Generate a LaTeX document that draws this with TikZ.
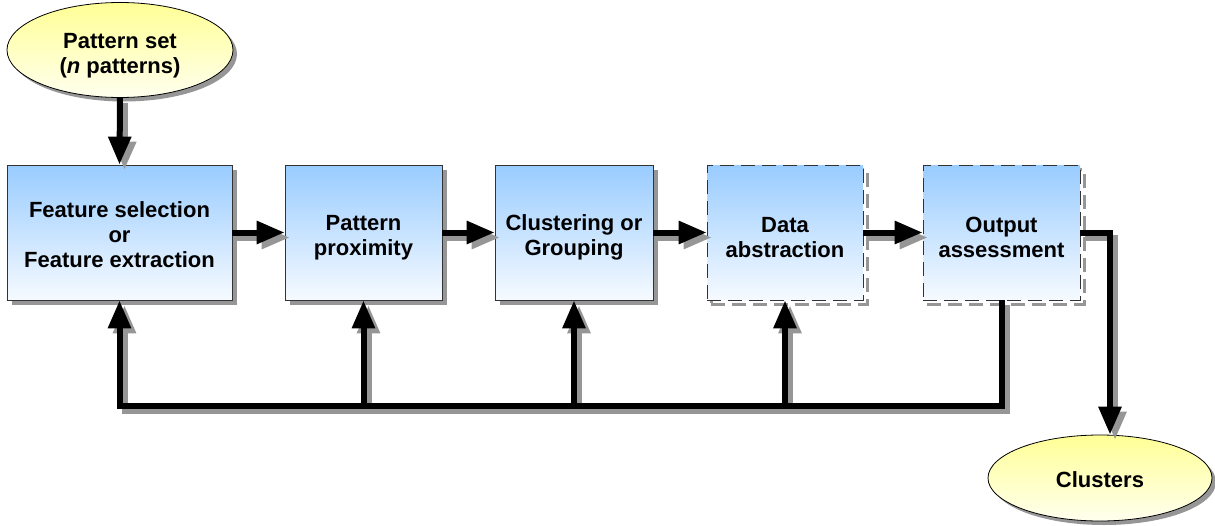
\documentclass[tikz,border=0pt]{standalone}
\usepackage{fontspec}
\setmainfont{Liberation Sans}
\usetikzlibrary{arrows.meta,shapes.geometric,shadows}
\definecolor{boxtop}{RGB}{153,204,255}
\definecolor{boxbot}{RGB}{246,250,255}
\definecolor{elltop}{RGB}{255,255,150}
\definecolor{ellbot}{RGB}{255,255,238}
\definecolor{shad}{RGB}{150,150,150}
\begin{document}
\begin{tikzpicture}[x=1pt,y=-1pt,
  font=\fontsize{22}{25}\selectfont\bfseries,
  stage/.style={rectangle, draw=black!80, line width=0.8pt, top color=boxtop, bottom color=boxbot,
    minimum height=135pt, inner sep=0pt,
    drop shadow={shadow xshift=5pt, shadow yshift=-5pt, fill=shad, opacity=1}},
  dstage/.style={rectangle, draw=black!80, line width=0.8pt, top color=boxtop, bottom color=boxbot,
    minimum height=135pt, inner sep=0pt, dash pattern=on 14pt off 7pt,
    general shadow={shadow xshift=4pt, shadow yshift=-4pt, draw=shad, line width=3pt, dash pattern=on 14pt off 7pt}},
  term/.style={ellipse, draw=black, line width=0.8pt, top color=elltop, bottom color=ellbot,
    inner sep=0pt,
    drop shadow={shadow xshift=4pt, shadow yshift=-4pt, fill=shad, opacity=1}},
  txt/.style={align=center, inner sep=0pt},
  conn/.style={line width=6pt, line join=miter, -{Triangle[length=28pt,width=22pt]}},
  shadlayer/.style={draw=shad, transform canvas={xshift=5pt,yshift=-5pt}}
]
\useasboundingbox (0,0) rectangle (1215,525);

\node[term, minimum width=226pt, minimum height=95pt] (pat) at (120,50) {};
\node[stage, minimum width=225pt] (feat) at (119.5,232.5) {};
\node[stage, minimum width=157pt] (prox) at (363.5,232.5) {};
\node[stage, minimum width=158pt] (clu) at (574,232.5) {};
\node[dstage, minimum width=156pt] (abs) at (785,232.5) {};
\node[dstage, minimum width=157pt] (out) at (1001.5,232.5) {};
\node[term, minimum width=224pt, minimum height=86pt] (clus) at (1100,478) {};

\node[txt] (patT) at ([yshift=-6pt]pat.center) {Pattern set\\(\textit{n} patterns)};
\node[txt] (featT) at ([yshift=-2pt]feat.center) {Feature selection\\or\\Feature extraction};
\node[txt] (proxT) at ([yshift=-5pt]prox.center) {Pattern\\proximity};
\node[txt] (cluT) at ([yshift=-5pt]clu.center) {Clustering or\\Grouping};
\node[txt] (absT) at ([yshift=-5pt]abs.center) {Data\\abstraction};
\node[txt] (outT) at ([yshift=-5pt]out.center) {Output\\assessment};
\node[txt] (clusT) at ([yshift=-2pt]clus.center) {Clusters};

\coordinate (bus) at (0,406);
\coordinate (turn) at (1110,232.5);

\newcommand\allconns[1]{%
  \draw[conn,#1] (out.south) -- (out.south |- bus) -- (feat.south |- bus) -- (feat.south);
  \draw[conn,#1] (prox.south |- bus) -- (prox.south);
  \draw[conn,#1] (clu.south |- bus) -- (clu.south);
  \draw[conn,#1] (abs.south |- bus) -- (abs.south);
  \draw[conn,#1] (pat.south) -- (feat.north);
  \draw[conn,#1] (feat.east) -- (prox.west);
  \draw[conn,#1] (prox.east) -- (clu.west);
  \draw[conn,#1] (clu.east) -- (abs.west);
  \draw[conn,#1] (abs.east) -- (out.west);
  \draw[conn,#1] (out.east) -- (turn) -- (turn |- clus.north);
}
\allconns{shadlayer}
\allconns{black}
\end{tikzpicture}
\end{document}
